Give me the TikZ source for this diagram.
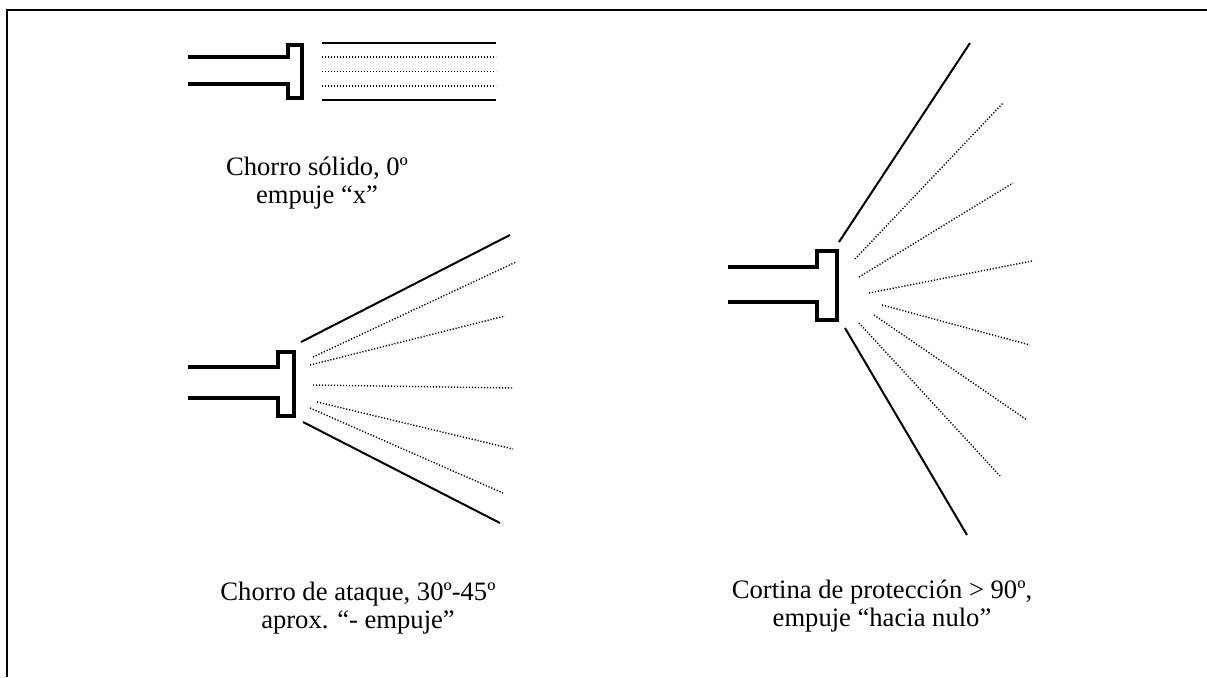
\documentclass[tikz,border=0pt]{standalone}
\usepackage{fontspec}
\setmainfont{Liberation Serif}

\begin{document}
\begin{tikzpicture}[x=0.5pt, y=-0.5pt,
    boquilla/.style={line width=2.4pt, line join=miter},
    borde/.style={line width=1pt},
    rociado/.style={line width=0.7pt, dash pattern=on 0.6pt off 0.9pt},
    texto/.style={align=center, inner sep=0pt, font=\fontsize{13.3}{14.2}\selectfont}]
    \useasboundingbox (0,0) rectangle (1207,677);
    \draw[line width=1pt] (7,677) -- (7,10) -- (1207,10);

    % chorro solido
    \draw[boquilla] (188,57) -- (288,57) -- (288,45) -- (302,45) -- (302,98) -- (288,98) -- (288,84) -- (188,84);
    \draw[borde] (322,43) -- (496,43);
    \draw[borde] (322,100) -- (496,100);
    \foreach \y in {57,71.5,86}
        \draw[rociado] (322,\y) -- (496,\y);
    \node[texto] (solido) at (317,183) {Chorro sólido, 0º\\empuje “x”};

    % chorro de ataque
    \draw[boquilla] (188,367) -- (278,367) -- (278,352) -- (294,352) -- (294,416) -- (278,416) -- (278,398) -- (188,398);
    \draw[borde] (301,342) -- (510,235);
    \draw[borde] (303,422) -- (500,523);
    \foreach \a/\b/\c/\d in {313/357/516/262, 310/365/505/316, 313/385/513/388, 317/402/513/449, 310/408/503/493}
        \draw[rociado] (\a,\b) -- (\c,\d);
    \node[texto] (ataque) at (358,608) {Chorro de ataque, 30º-45º\\aprox. “- empuje”};

    % cortina de proteccion
    \draw[boquilla] (728,267) -- (817,267) -- (817,251) -- (837,251) -- (837,320) -- (817,320) -- (817,302) -- (728,302);
    \draw[borde] (839,242) -- (970,43);
    \draw[borde] (845,328) -- (967,535);
    \foreach \a/\b/\c/\d in {855/259/1003/103, 859/277/1013/183, 869/293/1032/261, 882/305/1030/345, 874/315/1027/420, 859/323/1000/476}
        \draw[rociado] (\a,\b) -- (\c,\d);
    \node[texto] (cortina) at (882,606) {Cortina de protección > 90º,\\empuje “hacia nulo”};
\end{tikzpicture}
\end{document}
